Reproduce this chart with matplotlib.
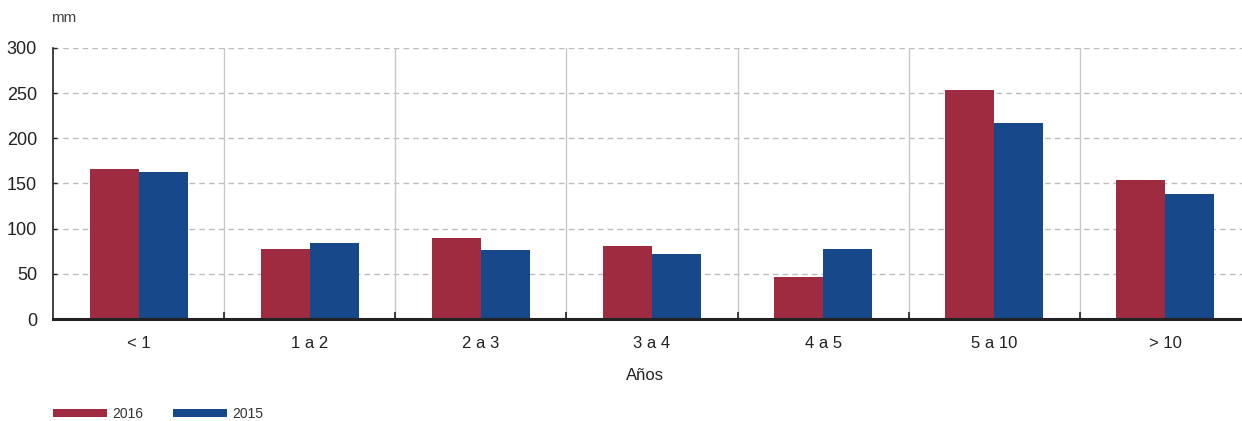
import matplotlib
matplotlib.use("Agg")
import matplotlib.pyplot as plt
import numpy as np

categories = ["< 1", "1 a 2", "2 a 3", "3 a 4", "4 a 5", "5 a 10", "> 10"]
values_2016 = [166, 77, 90, 81, 47, 253, 154]
values_2015 = [163, 84, 76, 72, 77, 217, 138]
y_ticks = [0, 50, 100, 150, 200, 250, 300]

RED = "#9E2B40"
BLUE = "#17488A"
TXT = "#222222"

plt.rcParams['font.family'] = ['Liberation Sans', 'DejaVu Sans']

fig = plt.figure(figsize=(12.42, 4.21), dpi=100)
ax = fig.add_axes([53/1242, 1-319/421, (1251-53)/1242, (319-48)/421])

x = np.arange(len(categories))
w = 0.286
ax.bar(x - w/2, values_2016, w, color=RED, edgecolor="none", zorder=3, label="2016")
ax.bar(x + w/2, values_2015, w, color=BLUE, edgecolor="none", zorder=3, label="2015")

ax.set_xlim(-0.5, len(categories) - 0.5)
ax.set_ylim(0, 300)
ax.set_yticks(y_ticks)
ax.set_yticklabels([str(v) for v in y_ticks], fontsize=13, color=TXT)

ax.set_xticks(x)
ax.set_xticklabels(categories, fontsize=12, color=TXT)
ax.set_xticks(x[:-1] + 0.5, minor=True)
ax.tick_params(axis='x', which='major', length=0, pad=12)
ax.tick_params(axis='x', which='minor', direction='in', length=5, width=1.2, color=TXT)
ax.tick_params(axis='y', which='major', direction='in', length=3, width=1, color=TXT, pad=11.5)

for y in y_ticks[1:]:
    ax.axhline(y, color="#BDBDBD", lw=1, ls=(0, (4, 3)), zorder=1)
for b in x[:-1] + 0.5:
    ax.axvline(b, color="#C8C8C8", lw=1, zorder=1)

for s in ['top', 'right']:
    ax.spines[s].set_visible(False)
ax.spines['left'].set_color(TXT)
ax.spines['left'].set_linewidth(1.2)
ax.spines['bottom'].set_color(TXT)
ax.spines['bottom'].set_linewidth(2.2)
ax.spines['bottom'].set_zorder(5)

fig.text(645/1242, 1-376/421, "Años", ha='center', va='center', fontsize=12, color=TXT)
fig.text(51/1242, 1-18/421, "mm", ha='left', va='center', fontsize=11, color="#444444")

leg = fig.legend(loc='center left', bbox_to_anchor=(46/1242, 1-414/421), ncol=2,
                 frameon=False, fontsize=10, handlelength=3.9, handleheight=0.55,
                 columnspacing=2.1, handletextpad=0.4, borderpad=0)
for t in leg.get_texts():
    t.set_color("#333333")

fig.savefig("out.png", dpi=100)
